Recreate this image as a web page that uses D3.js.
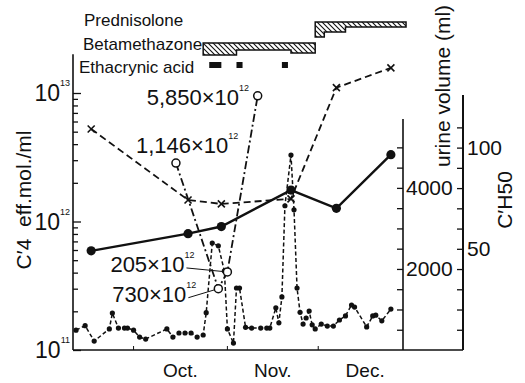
<!DOCTYPE html>
<html>
<head>
<meta charset="utf-8">
<script src="https://cdn.jsdelivr.net/npm/d3@7"></script>
<style>
  html, body { margin: 0; padding: 0; background: #fff; }
  svg { display: block; font-family: "Liberation Sans", Arial, "Helvetica", sans-serif; }
</style>
</head>
<body>
<svg id="chart" width="525" height="383"></svg>
<script>
// ---- data ---------------------------------------------------------------

// daily urine volume (ml)
const urineDates = ["09-12","09-15","09-18","09-23","09-24","09-26","09-28","09-29",
  "10-01","10-03","10-05","10-12","10-14","10-16","10-18","10-20","10-22","10-24",
  "10-25","10-27","10-29","10-31","11-01","11-03","11-04","11-05","11-07","11-09",
  "11-12","11-14","11-15","11-17","11-18","11-19","11-20","11-22","11-23","11-24",
  "11-25","11-26","11-27","11-28","11-29","11-30","12-02","12-04","12-06","12-08",
  "12-10","12-12","12-13","12-17","12-19","12-20","12-22","12-25"];
const urineVolume = [490,600,220,520,910,540,540,540,
  490,320,270,520,320,420,420,420,320,370,
  920,2640,2570,1950,520,170,1530,1530,560,540,
  540,540,540,1040,670,1310,3560,4810,3460,1530,
  930,640,790,960,620,520,640,590,590,740,
  840,1110,1060,570,840,860,720,1010];

// serum sampling days
const sampleDates = ["09-17","10-19","10-30","11-22","12-07","12-25"];
// C'4 titre (eff.mol./ml)
const c4Values = [5.25e12, 1.47e12, 1.37e12, 1.5e12, 1.1e13, 1.57e13];
// C'H50
const ch50Values = [49, 57.5, 61, 79, 70, 96.5];

// C'4 peaks, annotated with their titres (x10^12)
const peakDates = ["10-15","10-29","11-01","11-11"];
const peakValues = [2.85e12, 3.0e11, 4.05e11, 9.5e12];
const peakLabels = ["1,146", "730", "205", "5,850"];

// treatment periods [from, to, dose level]
const prednisolone = [["11-30","12-03",3], ["12-03","12-10",2], ["12-10","12-30",1]];
const betamethazone = [["10-24","11-04",2.4], ["11-04","11-22",1.4], ["11-22","11-30",2]];
const ethacrynicAcid = [["10-26","10-30"], ["11-04","11-06"], ["11-19","11-21"]];
const drugNames = ["Prednisolone", "Betamethazone", "Ethacrynic acid"];

// axis ticks
const c4Decades = [1e11, 1e12, 1e13];
const urineTicks = d3.range(500, 5001, 500);
const urineLabels = [2000, 4000];
const ch50Ticks = d3.range(10, 111, 10);
const ch50Labels = [50, 100];
const monthLabels = ["Oct.", "Nov.", "Dec."];

// ---- scales ---------------------------------------------------------------
const parse = d3.utcParse("%m-%d");
const x = d3.scaleUtc().domain([parse("09-11"), parse("12-29")]).range([73, 403]);
const yC4 = d3.scaleLog().domain([1e11, 1e13]).range([350, 93]);
const yUrine = d3.scaleLinear().domain([0, 5700]).range([350, 119]);
const yCH50 = d3.scaleLinear().domain([0, 126]).range([350, 95]);
const doseH = d3.scaleLinear().domain([0, 1]).range([0, 5]);

const svg = d3.select("#chart");
const ink = "#111";

// ---- hatch pattern ------------------------------------------------------------
const defs = svg.append("defs");
defs.append("pattern")
  .attr("id", "hatch").attr("patternUnits", "userSpaceOnUse")
  .attr("width", 5).attr("height", 5)
  .append("path")
  .attr("d", "M0,0 L5,5 M-1,4 L1,6 M4,-1 L6,1")
  .attr("stroke", ink).attr("stroke-width", 1.1);

// ---- axes -----------------------------------------------------------------------
const xLeft = x.range()[0], xRight = x.range()[1];
const xCH50 = 463;

// left log axis (ticks inward)
const c4Minor = [];
c4Decades.slice(0, 2).forEach(d => { for (let k = 2; k <= 9; k++) c4Minor.push(d * k); });
svg.append("g").attr("transform", `translate(${xLeft},0)`)
  .call(d3.axisRight(yC4).tickValues(c4Minor).tickSize(5).tickFormat(""))
  .call(g => g.select(".domain").remove());
svg.append("g").attr("transform", `translate(${xLeft},0)`)
  .call(d3.axisRight(yC4).tickValues(c4Decades).tickSize(8).tickFormat(""))
  .call(g => g.select(".domain").remove());
svg.selectAll(".tick line").attr("stroke", ink).attr("stroke-width", 1.3);
svg.append("line").attr("x1", xLeft).attr("x2", xLeft)
  .attr("y1", yC4(2e13)).attr("y2", yC4(1e11))
  .attr("stroke", ink).attr("stroke-width", 1.6);

const decadeLbl = svg.append("g").selectAll("text").data(c4Decades).join("text")
  .attr("x", xLeft - 3).attr("y", d => yC4(d)).attr("dy", "0.35em")
  .attr("text-anchor", "end").attr("font-size", 23).attr("fill", ink);
decadeLbl.append("tspan").text("10");
decadeLbl.append("tspan").attr("font-size", 9).attr("dy", -15)
  .text(d => Math.round(Math.log10(d)));

// bottom axis
svg.append("line").attr("x1", xLeft).attr("x2", xCH50)
  .attr("y1", 350).attr("y2", 350).attr("stroke", ink).attr("stroke-width", 1.6);
const monthStarts = d3.utcMonth.range(parse("09-12"), parse("12-29"));
svg.append("g").selectAll("line").data(monthStarts).join("line")
  .attr("x1", d => x(d)).attr("x2", d => x(d)).attr("y1", 350).attr("y2", 346)
  .attr("stroke", ink).attr("stroke-width", 1);
svg.append("g").selectAll("text").data(monthLabels).join("text")
  .attr("x", (d, i) => (x(monthStarts[i]) + x(d3.utcMonth.offset(monthStarts[i], 1))) / 2)
  .attr("y", 377).attr("text-anchor", "middle").attr("font-size", 19).attr("fill", ink)
  .text(d => d);

// urine volume axis
svg.append("g").attr("transform", `translate(${xRight},0)`)
  .call(d3.axisLeft(yUrine).tickValues(urineTicks).tickSize(6).tickFormat(""))
  .call(g => g.select(".domain").remove())
  .call(g => g.selectAll(".tick line").attr("stroke", ink).attr("stroke-width", 1.3));
svg.append("line").attr("x1", xRight).attr("x2", xRight)
  .attr("y1", yUrine(5700)).attr("y2", 350).attr("stroke", ink).attr("stroke-width", 1.6);
svg.append("g").selectAll("text").data(urineLabels).join("text")
  .attr("x", xRight + 3).attr("y", d => yUrine(d)).attr("dy", "0.35em")
  .attr("font-size", 21).attr("fill", ink).text(d => d);

// C'H50 axis
svg.append("g").attr("transform", `translate(${xCH50},0)`)
  .call(d3.axisLeft(yCH50).tickValues(ch50Ticks).tickSize(6).tickFormat(""))
  .call(g => g.select(".domain").remove())
  .call(g => g.selectAll(".tick line").attr("stroke", ink).attr("stroke-width", 1.3));
svg.append("line").attr("x1", xCH50).attr("x2", xCH50)
  .attr("y1", yCH50(126)).attr("y2", 350).attr("stroke", ink).attr("stroke-width", 2);
svg.append("g").selectAll("text").data(ch50Labels).join("text")
  .attr("x", xCH50 + 4).attr("y", d => yCH50(d)).attr("dy", "0.35em")
  .attr("font-size", 21).attr("fill", ink).text(d => d);

// axis titles
svg.append("text").attr("transform", "translate(31,200) rotate(-90)")
  .attr("text-anchor", "middle").attr("font-size", 21).attr("fill", ink)
  .attr("xml:space", "preserve").text("C\u20324  eff.mol./ml");
svg.append("text").attr("transform", "translate(450,86) rotate(-90)")
  .attr("text-anchor", "middle").attr("font-size", 21).attr("fill", ink)
  .text("urine volume (ml)");
svg.append("text").attr("transform", "translate(512,200) rotate(-90)")
  .attr("text-anchor", "middle").attr("font-size", 21).attr("fill", ink)
  .text("C\u2032H50");

// ---- treatment bars ------------------------------------------------------
function doseArea(periods, top) {
  const pts = periods.map(p => ({ t: parse(p[0]), lvl: p[2] }));
  const last = periods[periods.length - 1];
  pts.push({ t: parse(last[1]), lvl: last[2] });
  return d3.area().curve(d3.curveStepAfter)
    .x(d => x(d.t)).y0(top).y1(d => top + doseH(d.lvl))(pts);
}
svg.append("path").attr("d", doseArea(prednisolone, 22))
  .attr("fill", "url(#hatch)").attr("stroke", ink).attr("stroke-width", 1.5);
svg.append("path").attr("d", doseArea(betamethazone, 43))
  .attr("fill", "url(#hatch)").attr("stroke", ink).attr("stroke-width", 1.5);
svg.append("g").selectAll("rect").data(ethacrynicAcid).join("rect")
  .attr("x", d => x(parse(d[0]))).attr("width", d => x(parse(d[1])) - x(parse(d[0])))
  .attr("y", 62).attr("height", 6).attr("fill", ink);

const drugLabelY = [26, 50, 73];
const drugLabelX = [84, 83, 79];
svg.append("g").selectAll("text").data(drugNames).join("text")
  .attr("x", (d, i) => drugLabelX[i]).attr("y", (d, i) => drugLabelY[i])
  .attr("font-size", 17).attr("fill", ink).text(d => d);

// ---- series ----------------------------------------------------------------
const urine = urineDates.map((d, i) => ({ t: parse(d), v: urineVolume[i] }));
svg.append("path").datum(urine)
  .attr("d", d3.line().x(d => x(d.t)).y(d => yUrine(d.v)))
  .attr("fill", "none").attr("stroke", ink).attr("stroke-width", 1.5)
  .attr("stroke-dasharray", "4,2.5");
svg.append("g").selectAll("circle").data(urine).join("circle")
  .attr("cx", d => x(d.t)).attr("cy", d => yUrine(d.v)).attr("r", 2.6).attr("fill", ink);

const samples = sampleDates.map((d, i) => ({ t: parse(d), c4: c4Values[i], ch50: ch50Values[i] }));

// C'H50: solid line, filled circles
svg.append("path").datum(samples)
  .attr("d", d3.line().x(d => x(d.t)).y(d => yCH50(d.ch50)))
  .attr("fill", "none").attr("stroke", ink).attr("stroke-width", 2.4);
svg.append("g").selectAll("circle").data(samples).join("circle")
  .attr("cx", d => x(d.t)).attr("cy", d => yCH50(d.ch50)).attr("r", 4.6).attr("fill", ink);

// C'4: dashed line, crosses
svg.append("path").datum(samples)
  .attr("d", d3.line().x(d => x(d.t)).y(d => yC4(d.c4)))
  .attr("fill", "none").attr("stroke", ink).attr("stroke-width", 1.8)
  .attr("stroke-dasharray", "7,4");
svg.append("g").selectAll("path").data(samples).join("path")
  .attr("d", d => {
    const cx = x(d.t), cy = yC4(d.c4), s = 3.5;
    return `M${cx - s},${cy - s}L${cx + s},${cy + s}M${cx - s},${cy + s}L${cx + s},${cy - s}`;
  })
  .attr("stroke", ink).attr("stroke-width", 1.6).attr("fill", "none");

// C'4 peaks: dash-dot line, open circles
const peaks = peakDates.map((d, i) => ({ t: parse(d), v: peakValues[i], label: peakLabels[i] }));
svg.append("path").datum(peaks)
  .attr("d", d3.line().x(d => x(d.t)).y(d => yC4(d.v)))
  .attr("fill", "none").attr("stroke", ink).attr("stroke-width", 1.8)
  .attr("stroke-dasharray", "8,3,2,3");

// label placement relative to each circle: [dx, dy, leader line]
const peakLabelLayout = [[-40, -10, false], [-106, 13, true], [-117, 0, true], [-111, 9, false]];
const pl = svg.append("g");
peaks.forEach((p, i) => {
  const cx = x(p.t), cy = yC4(p.v);
  const [dx, dy, leader] = peakLabelLayout[i];
  const t = pl.append("text").attr("x", cx + dx).attr("y", cy + dy)
    .attr("font-size", 22).attr("fill", ink);
  t.append("tspan").text(p.label + "\u00d710");
  t.append("tspan").attr("font-size", 9).attr("dy", -14).text("12");
  if (leader) {
    const bb = t.node().getBBox();
    const x0 = bb.x + bb.width - 8, y0 = cy + dy - 4;
    const ang = Math.atan2(cy - y0, cx - x0);
    pl.append("line").attr("x1", x0).attr("y1", y0)
      .attr("x2", cx - 4.5 * Math.cos(ang)).attr("y2", cy - 4.5 * Math.sin(ang))
      .attr("stroke", ink).attr("stroke-width", 1);
  }
});
svg.append("g").selectAll("circle").data(peaks).join("circle")
  .attr("cx", d => x(d.t)).attr("cy", d => yC4(d.v)).attr("r", 4)
  .attr("fill", "#fff").attr("stroke", ink).attr("stroke-width", 1.5);
</script>
</body>
</html>
